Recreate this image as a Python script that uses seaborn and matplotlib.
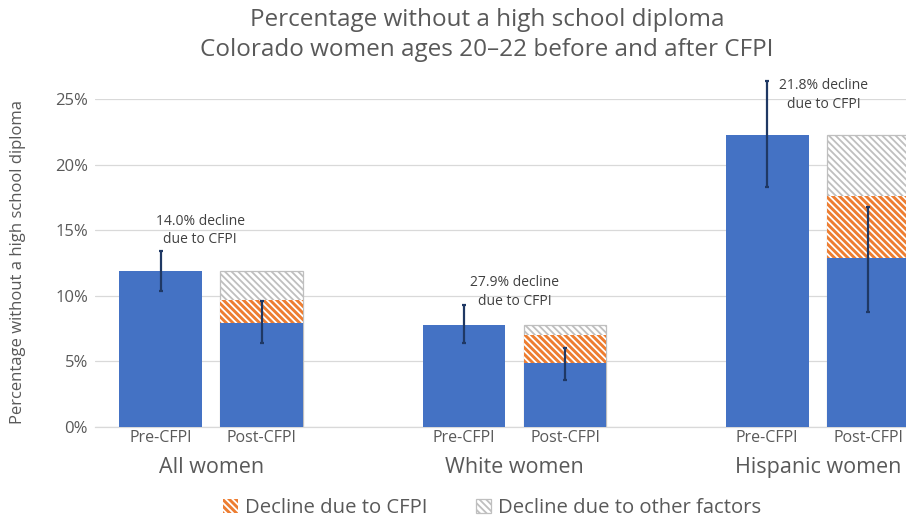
import numpy as np
import pandas as pd
import matplotlib
matplotlib.use("Agg")
import matplotlib.pyplot as plt
import matplotlib.patches as mpatches
import seaborn as sns

# ---- data ----
groups = ["All women", "White women", "Hispanic women"]
periods = ["Pre-CFPI", "Post-CFPI"]
pre_values = [0.119, 0.078, 0.2225]          # pre-CFPI share
post_values = [0.079, 0.0485, 0.1285]        # post-CFPI share (blue)
post_cfpi_top = [0.0965, 0.070, 0.176]       # blue + decline due to CFPI
post_total = [0.119, 0.078, 0.2225]          # blue + CFPI + other factors
pre_err_low = [0.104, 0.064, 0.183]
pre_err_high = [0.134, 0.093, 0.264]
post_err_low = [0.064, 0.036, 0.088]
post_err_high = [0.096, 0.060, 0.168]
annotations = ["14.0% decline\ndue to CFPI", "27.9% decline\ndue to CFPI", "21.8% decline\ndue to CFPI"]
yticks = [0, 0.05, 0.10, 0.15, 0.20, 0.25]
ytick_labels = ["0%", "5%", "10%", "15%", "20%", "25%"]

BLUE = "#4472C4"
ORANGE = "#ED7D31"
GRAYH = "#BFBFBF"
ERR = "#1F3864"
TXT = "#595959"
HATCH = "\\\\\\\\\\"

sns.set_theme(style="white")
plt.rcParams["font.family"] = ["Open Sans", "DejaVu Sans"]
plt.rcParams["hatch.linewidth"] = 1.3

n = len(groups)
pre_x = [3 * i for i in range(n)]
post_x = [3 * i + 1 for i in range(n)]
all_x = pre_x + post_x

fig = plt.figure(figsize=(9.06, 5.2), dpi=100)
W, H = 906, 520
ax_left, ax_right, ax_top, ax_bot = 95, 934, 99, 427
ax = fig.add_axes([ax_left / W, 1 - ax_bot / H, (ax_right - ax_left) / W, (ax_bot - ax_top) / H])

# layer 1: total post bars (other factors, gray hatch); pre slots zero
df_total = pd.DataFrame({"x": all_x, "y": [0.0] * n + post_total})
sns.barplot(data=df_total, x="x", y="y", native_scale=True, width=0.82, ax=ax,
            color="white", edgecolor=GRAYH, linewidth=0.9, hatch=HATCH, zorder=2)
for p in ax.containers[-1]:
    p.set_facecolor("white")
    p.set_edgecolor(GRAYH)
    if p.get_height() == 0:
        p.set_visible(False)
# layer 2: blue + CFPI decline (orange hatch)
df_cfpi = pd.DataFrame({"x": all_x, "y": [0.0] * n + post_cfpi_top})
sns.barplot(data=df_cfpi, x="x", y="y", native_scale=True, width=0.82, ax=ax,
            color=ORANGE, linewidth=0, hatch=HATCH, zorder=3)
for p in ax.containers[-1]:
    p.set_facecolor(ORANGE)
    p.set_edgecolor("white")
    p.set_linewidth(0)
    if p.get_height() == 0:
        p.set_visible(False)
# layer 3: blue bars
df_blue = pd.DataFrame({"x": all_x, "y": pre_values + post_values})
sns.barplot(data=df_blue, x="x", y="y", native_scale=True, width=0.82, ax=ax,
            color=BLUE, linewidth=0, saturation=1, zorder=4)
for p in ax.containers[-1]:
    p.set_facecolor(BLUE)

# error bars
ey = pre_values + post_values
lo = np.array(ey) - np.array(pre_err_low + post_err_low)
hi = np.array(pre_err_high + post_err_high) - np.array(ey)
ax.errorbar(all_x, ey, yerr=[lo, hi], fmt="none", ecolor=ERR, elinewidth=1.6,
            capsize=1.5, capthick=1.6, zorder=6, clip_on=False)

ax.set_xlim(-0.65, 7.65)
ax.set_ylim(0, 0.25)
ax.set_yticks(yticks)
ax.set_yticklabels(ytick_labels, color=TXT, fontsize=12)
ax.set_xticks(all_x)
ax.set_xticklabels([periods[0]] * n + [periods[1]] * n, color=TXT, fontsize=11.5)
ax.tick_params(axis="x", length=0, pad=2)
ax.tick_params(axis="y", length=0, pad=5)
ax.set_xlabel("")
ax.set_ylabel("")
ax.yaxis.grid(True, color="#D9D9D9", linewidth=0.9, zorder=0)
ax.set_axisbelow(True)
for s in ["left", "right", "top"]:
    ax.spines[s].set_visible(False)
ax.spines["bottom"].set_color("#D9D9D9")
ax.spines["bottom"].set_linewidth(0.9)

# group labels
for i, g in enumerate(groups):
    ax.text(3 * i + 0.5, -0.122, g, transform=ax.get_xaxis_transform(),
            ha="center", va="center", fontsize=15.5, color=TXT)

# annotations
ann_x = [0.39, 3.50, 6.56]
ann_y = [0.150, 0.103, 0.253]
for xx, yy, t in zip(ann_x, ann_y, annotations):
    ax.text(xx, yy, t, ha="center", va="center", fontsize=10, color="#404040",
            linespacing=1.3, zorder=7)

# title
fig.text(487 / W, 1 - 20 / H, "Percentage without a high school diploma",
         ha="center", va="center", fontsize=17.5, color=TXT)
fig.text(487 / W, 1 - 50 / H, "Colorado women ages 20\u201322 before and after CFPI",
         ha="center", va="center", fontsize=17.5, color=TXT)

# y label
fig.text(18 / W, 1 - 262 / H, "Percentage without a high school diploma",
         rotation=90, ha="center", va="center", fontsize=12, color=TXT)

# legend
h1 = mpatches.Patch(facecolor=ORANGE, edgecolor="white", hatch=HATCH, linewidth=0)
h2 = mpatches.Patch(facecolor="white", edgecolor=GRAYH, hatch=HATCH, linewidth=0.9)
fig.legend([h1, h2], ["Decline due to CFPI", "Decline due to other factors"],
           loc="center", bbox_to_anchor=(492 / W, 1 - 508 / H), ncol=2, frameon=False,
           fontsize=14.6, handlelength=0.75, handleheight=0.75, columnspacing=2.4,
           handletextpad=0.35, labelcolor=TXT)

fig.savefig("out.png", dpi=100)
